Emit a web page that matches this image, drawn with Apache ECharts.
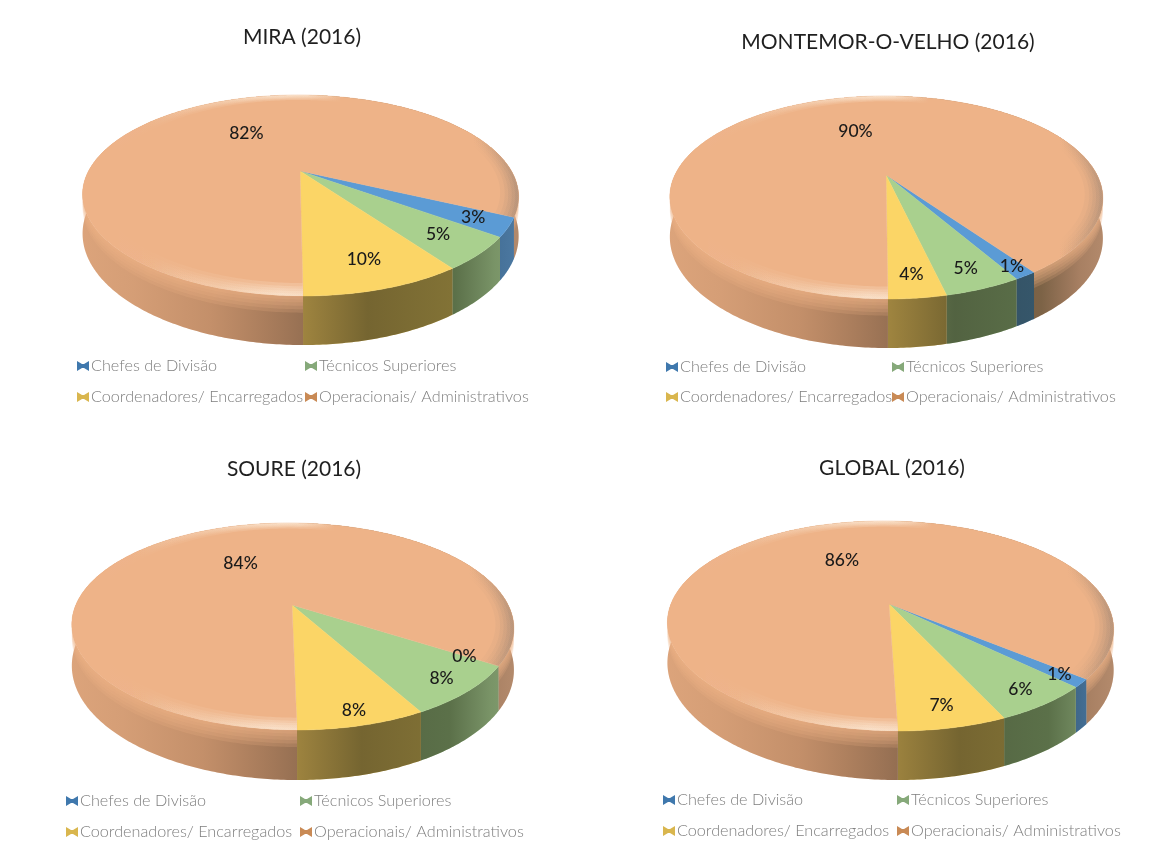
<!DOCTYPE html>
<html><head><meta charset="utf-8">
<style>html,body{margin:0;padding:0;background:#fff}#c{width:1165px;height:843px}</style>
<script src="https://cdn.jsdelivr.net/npm/echarts@6/dist/echarts.min.js"></script>
</head><body><div id="c"></div>
<script>
const categories = ['Chefes de Divisão','Técnicos Superiores','Coordenadores/ Encarregados','Operacionais/ Administrativos'];
const titles = ['MIRA (2016)','MONTEMOR-O-VELHO (2016)','SOURE (2016)','GLOBAL (2016)'];
const miraValues = [3.0,5.2,9.6,82.2];
const montemorValues = [1.4,4.7,3.5,90.4];
const soureValues = [0,8.0,7.8,84.2];
const globalValues = [1.3,6.0,6.5,86.2];
const allValues = [miraValues,montemorValues,soureValues,globalValues];

const colors = ['#5B9BD5','#A9D08E','#FBD566','#EEB388'];
const legendColors = ['#3F78AD','#86A97A','#D9B64E','#C98A55'];
// layout of each panel
const pies = [
 {cx:298,ax:300,cy:171,halfW:218,above:76,below:125,wall:49,sk:2.3,titleX:302,titleY:40,legX:[77,305],legY:[368,399],lab:[.85,.8,.8,.52]},
 {cx:885.5,ax:886,cy:175,halfW:216.5,above:79,below:124,wall:49,sk:1.5,titleX:888,titleY:45,legX:[666,892],legY:[369,399],lab:[.92,.85,.84,.53]},
 {cx:291,ax:292,cy:605,halfW:221,above:82,below:125,wall:50,sk:4,titleX:294,titleY:472,legX:[66,300],legY:[803,834],lab:[.85,.87,.9,.53]},
 {cx:888,ax:889,cy:604,halfW:223,above:83,below:127,wall:49,sk:7,titleX:892,titleY:471,legX:[663,897],legY:[802,833],lab:[.9,.87,.85,.53]}
];
pies.forEach(g=>{
  g.k=(g.below-g.above)/(g.below+g.above);
  g.ry=g.above*(1+g.k);
  g.rx=g.halfW*Math.sqrt(1-g.k*g.k);
  g.h0=g.wall*(1-g.k);
  g.left=g.cx-g.halfW; g.right=g.cx+g.halfW;
});
function proj(g,a,t,drop){
  const u=Math.sin(a)*t, v=Math.cos(a)*t, w=1-g.k*v;
  return [g.ax+(g.rx*u+g.sk*v)/w, g.cy+(g.ry*v+(drop||0))/w];
}
function arc(g,a0,a1,t,drop){
  const n=Math.max(2,Math.ceil(Math.abs(a1-a0)/0.012)),p=[];
  for(let i=0;i<=n;i++)p.push(proj(g,a0+(a1-a0)*i/n,t,drop));
  return p;
}
const LG=(g,stops)=>new echarts.graphic.LinearGradient(g.left,0,g.right,0,stops,true);
const pos=(g,x)=>Math.min(1,Math.max(0,(x-g.left)/(g.right-g.left)));

function makeRender(pieIdx){
  const g=pies[pieIdx], vals=allValues[pieIdx];
  const offset=vals[0]+vals[1]+vals[2];
  const wallShade=LG(g,[
    {offset:0,color:'rgba(60,30,10,0.10)'},
    {offset:.12,color:'rgba(60,30,10,0.14)'},
    {offset:.3,color:'rgba(60,30,10,0.24)'},
    {offset:pos(g,g.ax+3),color:'rgba(30,20,10,0.42)'},
    {offset:.66,color:'rgba(20,20,10,0.58)'},
    {offset:.86,color:'rgba(20,25,10,0.52)'},
    {offset:.95,color:'rgba(20,20,20,0.32)'},
    {offset:1,color:'rgba(40,40,40,0.30)'}]);
  const glow=LG(g,[
    {offset:0,color:'rgba(255,255,255,0)'},
    {offset:.16,color:'rgba(255,250,240,0.02)'},
    {offset:.32,color:'rgba(255,245,230,0.22)'},
    {offset:.46,color:'rgba(255,245,230,0.50)'},
    {offset:.52,color:'rgba(255,245,230,0.45)'},
    {offset:.6,color:'rgba(255,245,230,0)'},
    {offset:.9,color:'rgba(120,110,100,0)'},
    {offset:1,color:'rgba(100,100,100,0.22)'}]);
  return function(params,api){
    const i=api.value(0), val=api.value(1), c=api.value(2);
    const a0=2*Math.PI*(offset-c)/100, a1=2*Math.PI*(offset-c-val)/100, mid=(a0+a1)/2;
    const kids=[];
    if(val>0){
      const rim=arc(g,a0,a1,1), low=arc(g,a0,a1,1,g.h0);
      const wall=rim.concat(low.slice().reverse());
      kids.push({type:'polygon',z2:1,shape:{points:wall},style:{fill:colors[i]}});
      kids.push({type:'polygon',z2:2,shape:{points:wall},style:{fill:wallShade}});
      if(i===3){
        [.34,.27,.2,.13,.07].forEach(f=>{
          const sh=arc(g,a0,a1,1,g.h0*f);
          kids.push({type:'polygon',z2:3,shape:{points:rim.concat(sh.slice().reverse())},style:{fill:colors[i],opacity:.2}});
        });
      }
      const top=[[proj(g,0,0)[0],g.cy]].concat(rim);
      kids.push({type:'polygon',z2:5,shape:{points:top},style:{fill:colors[i],stroke:colors[i],lineWidth:.4}});
      if(i===3){
        [.92,.94,.955,.97,.985].forEach(t=>{
          const ring=arc(g,a0,a1,t).concat(rim.slice().reverse());
          kids.push({type:'polygon',z2:6,shape:{points:ring},style:{fill:glow,opacity:.38}});
        });
      }
    }
    const lp=proj(g,mid,g.lab[i]);
    kids.push({type:'text',z2:10,style:{text:Math.round(val)+'%',x:lp[0],y:lp[1],align:'center',verticalAlign:'middle',
      font:'500 17.5px Lato, sans-serif',fill:'#1a1a1a'}});
    return {type:'group',children:kids};
  };
}
const series=[];
allValues.forEach((vals,p)=>{
  let c=0;
  const data=vals.map((v,i)=>{const d=[i,v,c];c+=v;return d;});
  series.push({type:'custom',name:titles[p],coordinateSystem:'none',silent:true,animation:false,
    renderItem:makeRender(p),data:data,encode:{}});
});
categories.forEach((n,i)=>series.push({type:'custom',name:n,coordinateSystem:'none',silent:true,
  renderItem:()=>null,data:[],itemStyle:{color:legendColors[i]}}));

const bow='path://M0 0 L5 3 L7 3 L12 0 L12 10 L7 7 L5 7 L0 10 Z';
const legends=[];
pies.forEach(g=>{
  categories.forEach((n,i)=>{
    legends.push({left:g.legX[i%2],top:g.legY[i>>1]-10,data:[{name:n,icon:bow}],selectedMode:false,
      itemWidth:12,itemHeight:10,padding:0,
      textStyle:{fontFamily:'Lato',fontWeight:300,fontSize:16.2,color:'#7f7f7f',padding:[0,0,0,-3]}});
  });
});
const chart=echarts.init(document.getElementById('c'),null,{renderer:'canvas'});
chart.setOption({
  backgroundColor:'#fff',animation:false,tooltip:{show:false},
  title:pies.map((g,i)=>({text:titles[i],left:g.titleX,top:g.titleY-13,textAlign:'center',padding:0,
    textStyle:{fontFamily:'Lato',fontWeight:400,fontSize:21,color:'#1f1f1f'}})),
  legend:legends,
  series:series
});
</script></body></html>
